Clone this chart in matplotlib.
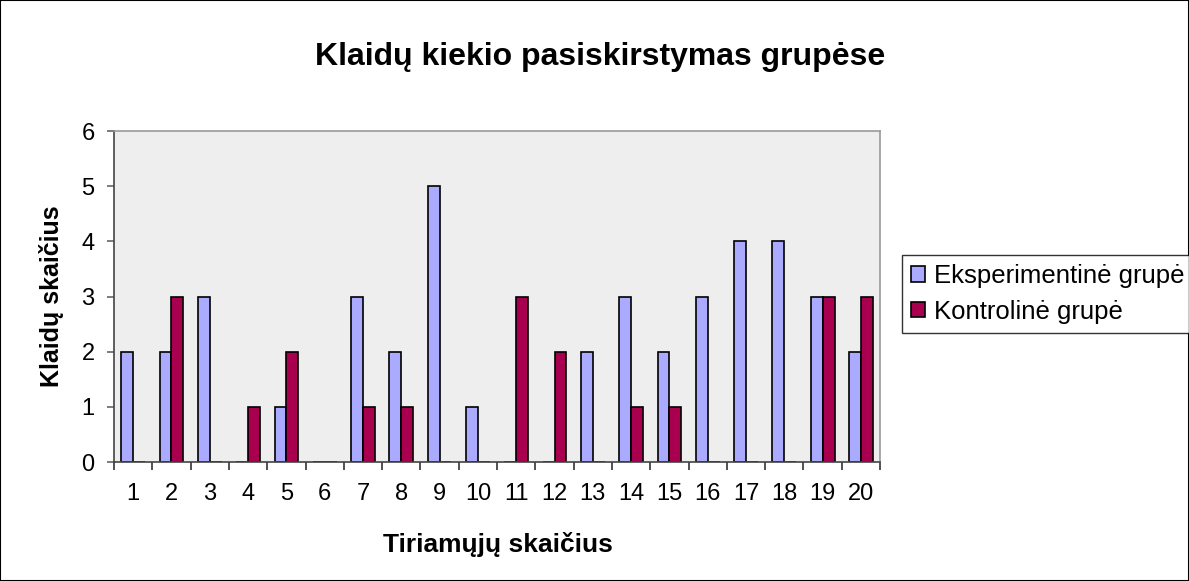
import numpy as np
import matplotlib
matplotlib.use("Agg")
import matplotlib.pyplot as plt
from matplotlib.patches import Rectangle

plt.rcParams['font.family'] = ['Liberation Sans', 'DejaVu Sans']

subjects = [str(i) for i in range(1, 21)]
eksperimentine = [2, 2, 3, 0, 1, 0, 3, 2, 5, 1, 0, 0, 2, 3, 2, 3, 4, 4, 3, 2]
kontroline = [0, 3, 0, 1, 2, 0, 1, 1, 0, 0, 3, 2, 0, 1, 1, 0, 0, 0, 3, 3]

fig = plt.figure(figsize=(11.89, 5.81), dpi=100)
fig.patch.set_facecolor('white')
fig.patches.append(Rectangle((0, 0), 1, 1, transform=fig.transFigure,
                             fill=False, edgecolor='black', linewidth=1.5))

ax = fig.add_axes([0.0959, 0.2048, 0.6443, 0.5697])
ax.set_facecolor('#EEEEEE')

x = np.arange(len(subjects))
w = 0.31
ax.bar(x - w / 2, eksperimentine, w, color='#AAAAFF', edgecolor='black',
       linewidth=1.2, label='Eksperimentinė grupė')
ax.bar(x + w / 2, kontroline, w, color='#A8004F', edgecolor='black',
       linewidth=1.2, label='Kontrolinė grupė')

ax.set_xlim(-0.5, len(subjects) - 0.5)
ax.set_ylim(0, 6)
ax.set_yticks(range(7))
ax.set_xticks(x)
ax.set_xticklabels(subjects)
ax.set_xticks(np.arange(-0.5, len(subjects)), minor=True)
ax.tick_params(axis='x', which='major', length=0, labelsize=17, pad=15)
ax.tick_params(axis='x', which='minor', length=6, width=1.2, color='#333333')
ax.tick_params(axis='y', length=5, width=1.2, color='#666666', labelsize=17, pad=9)

for side in ['top', 'right']:
    ax.spines[side].set_color('#999999')
    ax.spines[side].set_linewidth(1.2)
ax.spines['left'].set_color('#444444')
ax.spines['bottom'].set_color('#444444')
ax.spines['left'].set_linewidth(1.2)
ax.spines['bottom'].set_linewidth(1.2)

ax.set_xlabel('Tiriamųjų skaičius', fontsize=19, fontweight='bold', va='center')
ax.xaxis.set_label_coords(0.501, -0.25)
ax.set_ylabel('Klaidų skaičius', fontsize=18, fontweight='bold', va='center')
ax.yaxis.set_label_coords(-0.081, 0.5)
fig.text(0.505, 0.902, 'Klaidų kiekio pasiskirstymas grupėse', ha='center',
         va='center', fontsize=23, fontweight='bold')

leg = fig.legend(loc='upper left', bbox_to_anchor=(0.7586, 0.561), fontsize=18.5,
                 frameon=True, fancybox=False, edgecolor='black',
                 handlelength=0.55, handleheight=0.55, handletextpad=0.35,
                 borderpad=0.35, labelspacing=0.45, borderaxespad=0)
leg.get_frame().set_linewidth(1.0)

fig.savefig('out.png', dpi=100)
